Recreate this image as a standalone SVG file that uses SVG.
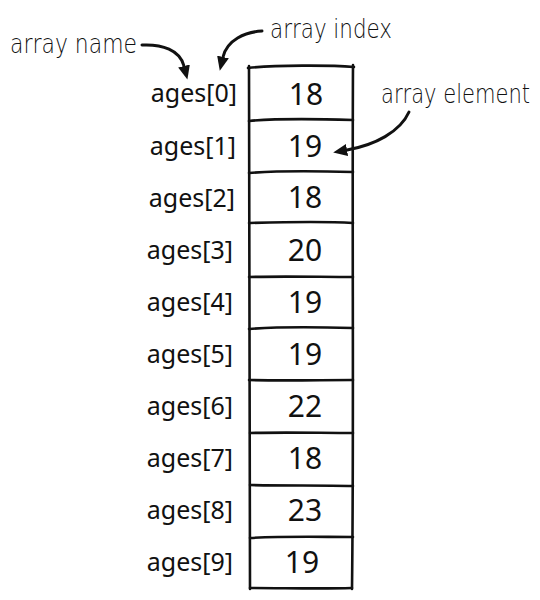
<svg xmlns="http://www.w3.org/2000/svg" width="540" height="600" viewBox="0 0 540 600">
<style>
.ln{fill:none;stroke:#111;stroke-width:2.6;stroke-linecap:round}
.lab{font-family:"Noto Sans","Open Sans",sans-serif;font-size:25px;fill:#111;text-anchor:end}
.val{font-family:"Noto Sans","Open Sans",sans-serif;font-size:30px;fill:#111;text-anchor:middle}
.hand{font-family:"DejaVu Sans","Liberation Sans Narrow",sans-serif;font-weight:200;font-size:26px;fill:#111}
.arr{fill:none;stroke:#111;stroke-width:3;stroke-linecap:round}
</style>
<defs>
<marker id="ah" viewBox="0 0 14 12" refX="0" refY="6" markerWidth="14" markerHeight="12" markerUnits="userSpaceOnUse" orient="auto">
<path d="M0,0 L14,6 L0,12 z" fill="#111"/>
</marker>
</defs>
<rect width="540" height="600" fill="#fff"/>
<g id="array-box">
<path class="ln" d="M249,66 C248,250 250,420 250,589"/>
<path class="ln" d="M353,65 C352,250 354,420 352,589"/>
<path class="ln" d="M248,68 C275,65 330,65 354,67"/>
</g>
<g id="cell-0"><path class="ln" d="M249,121 C280,118 320,119 353,120"/><text class="lab" x="237" y="102">ages[0]</text><text class="val" x="306" y="105">18</text></g>
<g id="cell-1"><path class="ln" d="M249,173 C285,170 320,171 353,172"/><text class="lab" x="236" y="155">ages[1]</text><text class="val" x="305" y="157">19</text></g>
<g id="cell-2"><path class="ln" d="M249,223 C285,222 320,221 353,223"/><text class="lab" x="235" y="207">ages[2]</text><text class="val" x="305" y="208">18</text></g>
<g id="cell-3"><path class="ln" d="M249,277 C285,276 320,277 353,277"/><text class="lab" x="233" y="259">ages[3]</text><text class="val" x="305" y="261">20</text></g>
<g id="cell-4"><path class="ln" d="M249,329 C285,326 320,327 353,328"/><text class="lab" x="233" y="311">ages[4]</text><text class="val" x="305" y="313">19</text></g>
<g id="cell-5"><path class="ln" d="M249,380 C285,381 320,380 353,380"/><text class="lab" x="233" y="363">ages[5]</text><text class="val" x="305" y="365">19</text></g>
<g id="cell-6"><path class="ln" d="M250,433 C285,432 320,433 353,433"/><text class="lab" x="233" y="415">ages[6]</text><text class="val" x="305" y="417">22</text></g>
<g id="cell-7"><path class="ln" d="M250,485 C285,486 320,485 353,486"/><text class="lab" x="233" y="467">ages[7]</text><text class="val" x="305" y="469">18</text></g>
<g id="cell-8"><path class="ln" d="M250,538 C285,536 320,537 353,537"/><text class="lab" x="233" y="519">ages[8]</text><text class="val" x="305" y="521">23</text></g>
<g id="cell-9"><path class="ln" d="M250,588 C285,588 320,589 352,588"/><text class="lab" x="233" y="571">ages[9]</text><text class="val" x="302" y="573">19</text></g>
<g id="label-name"><text class="hand" x="10" y="53" textLength="127" lengthAdjust="spacingAndGlyphs">array name</text></g>
<g id="label-index"><text class="hand" x="270" y="38" textLength="122" lengthAdjust="spacingAndGlyphs">array index</text></g>
<g id="label-element"><text class="hand" x="381" y="103" textLength="149" lengthAdjust="spacingAndGlyphs">array element</text></g>
<g id="connectors">
<path class="arr" d="M142,45 C162,44 180,50 184,66" marker-end="url(#ah)"/>
<path class="arr" d="M262,31 C245,32 227,40 223,57" marker-end="url(#ah)"/>
<path class="arr" d="M409,112 C400,132 375,145 347,150" marker-end="url(#ah)"/>
</g>
</svg>
